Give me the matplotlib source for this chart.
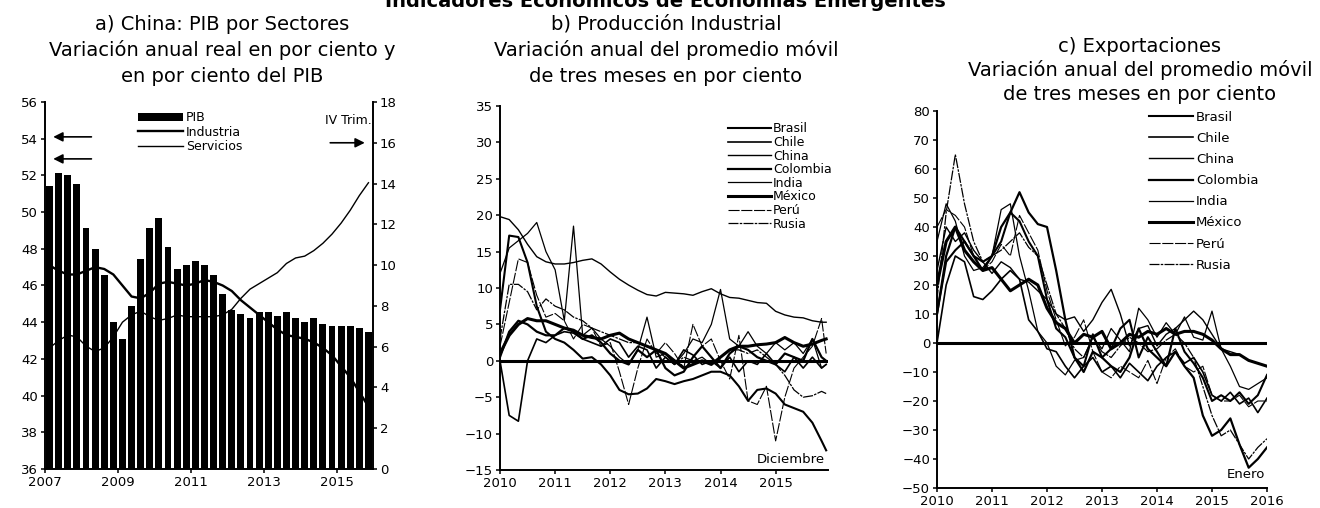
import numpy as np
import matplotlib
matplotlib.use('Agg')
import matplotlib.pyplot as plt

plt.rcParams['font.family'] = ['DejaVu Sans']

# ---------------- datos ----------------
# a) China: PIB por sectores (trimestral 2007T1 - 2015T4)
trimestres = [2007 + q / 4 + 0.125 for q in range(36)]
pib = [13.9, 14.5, 14.4, 14.0, 11.8, 10.8, 9.5, 7.2, 6.4, 8.0, 10.3, 11.8,
       12.3, 10.9, 9.8, 10.0, 10.2, 10.0, 9.5, 8.6, 7.8, 7.6, 7.4, 7.7,
       7.7, 7.5, 7.7, 7.4, 7.2, 7.4, 7.1, 7.0, 7.0, 7.0, 6.9, 6.7]
industria = [47.1, 46.8, 46.6, 46.6, 46.8, 47.0, 46.9, 46.6, 46.0, 45.4, 45.3, 45.6,
             46.1, 46.2, 46.1, 46.0, 46.1, 46.3, 46.2, 46.0, 45.7, 45.2, 44.8, 44.4,
             44.0, 43.6, 43.3, 43.2, 43.1, 42.9, 42.6, 42.2, 41.6, 41.0, 40.2, 39.4]
servicios = [42.6, 43.0, 43.3, 43.2, 42.7, 42.4, 42.6, 43.2, 44.0, 44.4, 44.6, 44.3,
             44.1, 44.2, 44.4, 44.3, 44.3, 44.3, 44.3, 44.4, 44.7, 45.3, 45.8, 46.1,
             46.4, 46.7, 47.2, 47.5, 47.6, 47.9, 48.3, 48.8, 49.4, 50.1, 50.9, 51.6]

paises = ['Brasil', 'Chile', 'China', 'Colombia', 'India', 'México', 'Perú', 'Rusia']

# b) Producción industrial, cada dos meses desde ene-2010 hasta dic-2015
meses_b = list(range(0, 71, 2)) + [71]
prod_brasil = [7.0, 17.2, 17.0, 13.5, 7.5, 4.0, 3.0, 2.5, 1.5, 0.3, 0.5, -0.5, -2.0, -4.0, -4.6, -4.5, -3.8, -2.5,
               -2.8, -3.2, -2.8, -2.5, -2.0, -1.5, -1.5, -2.0, -3.5, -5.5, -4.0, -3.8, -4.5, -6.0, -6.5, -7.0, -8.5, -11.0, -12.3]
prod_chile = [0.0, -7.5, -8.3, 0.0, 3.0, 2.5, 3.5, 4.0, 3.8, 3.0, 2.5, 2.0, 3.0, 2.5, 0.5, 2.0, 1.5, -1.0,
              0.5, -0.5, 1.5, 0.8, -0.5, 0.0, -1.0, 0.5, -1.5, 0.0, -0.5, 1.0, -0.5, -1.5, 0.5, -1.0, 0.5, -1.0, -0.5]
prod_china = [19.8, 19.4, 18.0, 16.0, 14.3, 13.6, 13.3, 13.3, 13.5, 13.8, 14.0, 13.3, 12.2, 11.2, 10.4, 9.7, 9.1, 8.9,
              9.4, 9.3, 9.2, 9.0, 9.5, 9.9, 9.2, 8.7, 8.6, 8.3, 8.0, 7.9, 6.8, 6.3, 6.0, 5.9, 5.5, 5.3, 5.3]
prod_colombia = [0.5, 4.0, 5.5, 5.0, 4.0, 3.5, 3.5, 4.5, 4.0, 3.0, 3.5, 2.5, 1.0, 0.0, -0.5, 1.5, 0.5, 1.5,
                 -1.0, -2.0, -1.5, 0.5, 2.0, 0.5, -1.0, 1.0, 2.0, 1.5, 0.5, 0.0, -0.5, 1.0, 0.5, 0.0, 3.0, 0.5, 0.0]
prod_india = [12.0, 15.5, 16.5, 17.5, 19.0, 15.0, 12.5, 5.5, 18.5, 3.5, 4.5, 3.0, 2.0, 0.5, -0.5, 1.5, 6.0, 0.5,
              1.0, -0.5, 1.0, 3.0, 2.5, 5.0, 9.8, 3.0, 2.0, 4.0, 2.0, 1.0, 2.5, 1.5, 2.5, 1.0, 3.0, -1.0, -0.5]
prod_mexico = [1.0, 3.5, 5.0, 5.8, 5.5, 5.5, 5.0, 4.5, 4.2, 3.5, 3.2, 3.0, 3.5, 3.8, 3.0, 2.5, 2.0, 1.5,
               1.0, 0.0, -1.0, -0.5, 0.0, -0.5, 0.5, 1.5, 2.0, 2.0, 2.2, 2.3, 2.5, 3.2, 2.5, 2.0, 2.3, 2.8, 3.0]
prod_peru = [2.0, 8.0, 14.0, 13.5, 9.0, 6.0, 6.5, 5.5, 3.0, 5.0, 4.5, 2.0, 2.5, -1.5, -6.0, -1.0, 3.0, 1.0,
             2.5, 1.0, -1.0, 5.0, 2.0, 3.0, 0.0, -2.5, 3.5, -5.5, -6.0, -3.5, -11.0, -5.0, -1.0, 0.5, 2.0, 5.8, 1.0]
prod_rusia = [3.0, 10.5, 10.5, 9.5, 7.0, 8.5, 7.5, 7.0, 6.0, 5.5, 4.5, 4.0, 3.5, 3.0, 2.5, 2.5, 2.0, 1.5,
              0.5, -0.5, 0.5, 0.0, 0.5, -0.5, 0.5, 1.5, 1.5, 1.0, 1.5, 0.5, -0.5, -2.0, -4.0, -5.0, -4.8, -4.2, -4.5]

# c) Exportaciones, cada dos meses desde ene-2010 hasta ene-2016
meses_c = list(range(0, 73, 2))
exp_brasil = [10, 28, 32, 35, 30, 28, 30, 35, 45, 42, 35, 30, 15, 5, 2, -5, -8, 3, -5,
              -2, 5, 8, -5, 2, -3, -8, 5, -3, -7, -12, -20, -18, -20, -17, -21, -18, -11]
exp_chile = [0, 20, 30, 28, 16, 15, 18, 22, 25, 22, 8, 4, -2, -3, -8, -12, -8, -5, -10,
             -8, -12, -7, -10, -13, -8, -5, -3, -7, -5, -10, -18, -20, -17, -21, -19, -24, -19]
exp_china = [25, 40, 35, 38, 32, 28, 24, 28, 26, 22, 21, 18, 15, 10, 8, 9, 4, 8, 14,
             18.5, 10, -1, 5, 6, -1, 3, 5, 8, 11, 8, 3, -2, -3, -4, -6, -7, -8]
exp_colombia = [10, 30, 40, 35, 30, 25, 30, 40, 45, 52, 45, 41, 40, 25, 8, -5, -10, -3, -5,
                -8, -10, -5, 5, -2, -5, -8, -3, -8, -12, -25, -32, -30, -26, -35, -43, -40, -36]
exp_india = [35, 48, 42, 30, 25, 26, 30, 46, 48, 30, 18, 4, 0, -8, -11, -6, -5, 2, -2,
             5, 1, -3, 12, 8, 2, 7, 3, 9, 2, 1, 11, -2, -8, -15, -16, -14, -12]
exp_mexico = [20, 35, 40, 32, 28, 25, 26, 22, 18, 20, 22, 20, 12, 7, 5, 0, 3, 2, 4,
              -2, 0, 3, 2, 4, 3, 5, 3, 4, 4, 3, 1, -2, -4, -4, -6, -7, -8]
exp_peru = [40, 46, 44, 40, 30, 25, 28, 34, 30, 44, 38, 32, 18, 8, -1, 2, 8, -3, -10,
            -12, -8, -10, -12, -6, -14, -5, -2, -8, -10, -8, -18, -20, -20, -18, -22, -20, -20]
exp_rusia = [15, 45, 65, 48, 35, 28, 30, 32, 35, 38, 33, 30, 20, 10, 5, -2, -5, 2, -3,
             -5, -1, 2, 0, -3, -2, 1, 3, 0, -5, -15, -25, -32, -30, -35, -40, -36, -33]

prod = [prod_brasil, prod_chile, prod_china, prod_colombia, prod_india, prod_mexico, prod_peru, prod_rusia]
expo = [exp_brasil, exp_chile, exp_china, exp_colombia, exp_india, exp_mexico, exp_peru, exp_rusia]

# estilos de linea por pais
anchos = [1.5, 1.2, 1.0, 1.6, 0.9, 2.2, 0.8, 0.9]
estilos = ['-', '-', '-', '-', '-', '-', (0, (10, 1.5)), (0, (8, 1, 2, 1))]

W, H = 1320, 508
fig = plt.figure(figsize=(W / 100, H / 100), dpi=100)


def caja(l, r, t, b):
    return [l / W, 1 - b / H, (r - l) / W, (b - t) / H]


def estilo_ejes(ax):
    for s in ['top', 'right']:
        ax.spines[s].set_visible(False)
    ax.spines['left'].set_linewidth(1.4)
    ax.spines['bottom'].set_linewidth(1.4)
    ax.tick_params(labelsize=9.5, length=3, width=1.1, direction='out', pad=2)


# ---------------- titulos ----------------
fig.text(665 / W, 1 - 1 / H, 'Indicadores Económicos de Economías Emergentes',
         ha='center', va='center', fontsize=14, fontweight='bold')

tit_a = ['a) China: PIB por Sectores', 'Variación anual real en por ciento y', 'en por ciento del PIB']
tit_b = ['b) Producción Industrial', 'Variación anual del promedio móvil', 'de tres meses en por ciento']
tit_c = ['c) Exportaciones', 'Variación anual del promedio móvil', 'de tres meses en por ciento']
for lineas, cx, ys in [(tit_a, 222, [24, 50, 76]), (tit_b, 666, [24, 50, 76]), (tit_c, 1140, [46, 70, 95])]:
    for txt, y in zip(lineas, ys):
        fig.text(cx / W, 1 - y / H, txt, ha='center', va='center', fontsize=14)

# ---------------- panel a ----------------
ax1 = fig.add_axes(caja(45, 373, 102, 469))
ax2 = ax1.twinx()
ax2.bar(trimestres, pib, width=0.19, color='black', label='PIB')
ax1.plot(trimestres, industria, color='black', lw=1.7, label='Industria')
ax1.plot(trimestres, servicios, color='black', lw=1.0, label='Servicios')
ax1.set_zorder(ax2.get_zorder() + 1)
ax1.patch.set_visible(False)

ax1.set_xlim(2007, 2016)
ax1.set_ylim(36, 56)
ax2.set_ylim(0, 18)
ax1.set_yticks(range(36, 57, 2))
ax2.set_yticks(range(0, 19, 2))
ax1.set_xticks([2007, 2009, 2011, 2013, 2015])
estilo_ejes(ax1)
ax2.spines['top'].set_visible(False)
ax2.spines['left'].set_visible(False)
ax2.spines['bottom'].set_visible(False)
ax2.spines['right'].set_linewidth(1.4)
ax2.tick_params(labelsize=9.5, length=3, width=1.1, pad=2)

h1, l1 = ax2.get_legend_handles_labels()
h2, l2 = ax1.get_legend_handles_labels()
ax1.legend(h1 + h2, l1 + l2, loc='upper left', bbox_to_anchor=(132 / W, 1 - 105 / H),
           bbox_transform=fig.transFigure, frameon=False, fontsize=9,
           handlelength=3.6, handleheight=0.6, labelspacing=0.1, borderpad=0, handletextpad=0.2)

flecha = dict(arrowstyle='-|>', color='black', lw=1.2, mutation_scale=14)
ax1.annotate('', xy=(2007.15, 54.1), xytext=(2008.35, 54.1), arrowprops=flecha)
ax1.annotate('', xy=(2007.15, 52.9), xytext=(2008.35, 52.9), arrowprops=flecha)
ax2.annotate('', xy=(2015.85, 16), xytext=(2014.75, 16), arrowprops=flecha)
ax2.text(2015.97, 17.1, 'IV Trim.', ha='right', va='center', fontsize=9)

# ---------------- panel b ----------------
axb = fig.add_axes(caja(500, 828, 106, 470))
xb = [2010 + m / 12 for m in meses_b]
for pais, serie, lw, ls in zip(paises, prod, anchos, estilos):
    axb.plot(xb, serie, color='black', lw=lw, ls=ls, label=pais)
axb.axhline(0, color='black', lw=2.2)
axb.set_xlim(2010, 2015.95)
axb.set_ylim(-15, 35)
axb.set_yticks(range(-15, 36, 5))
axb.set_xticks(range(2010, 2016))
estilo_ejes(axb)
axb.legend(loc='upper left', bbox_to_anchor=(722 / W, 1 - 116 / H), bbox_transform=fig.transFigure,
           frameon=False, fontsize=9, handlelength=3.4, labelspacing=0.05, borderpad=0, handletextpad=0.2)
axb.text(2015.9, -13.6, 'Diciembre', ha='right', va='center', fontsize=9.5)

# ---------------- panel c ----------------
axc = fig.add_axes(caja(937, 1267, 111, 488))
xc = [2010 + m / 12 for m in meses_c]
for pais, serie, lw, ls in zip(paises, expo, anchos, estilos):
    axc.plot(xc, serie, color='black', lw=lw, ls=ls, label=pais)
axc.axhline(0, color='black', lw=2.2)
axc.set_xlim(2010, 2016)
axc.set_ylim(-50, 80)
axc.set_yticks(range(-50, 81, 10))
axc.set_xticks(range(2010, 2017))
estilo_ejes(axc)
axc.legend(loc='upper left', bbox_to_anchor=(1142 / W, 1 - 104 / H), bbox_transform=fig.transFigure,
           frameon=False, fontsize=9.5, handlelength=3.4, labelspacing=0.62, borderpad=0, handletextpad=0.2)
axc.text(2015.97, -45.5, 'Enero', ha='right', va='center', fontsize=9.5)

fig.savefig('out.png', dpi=100)
